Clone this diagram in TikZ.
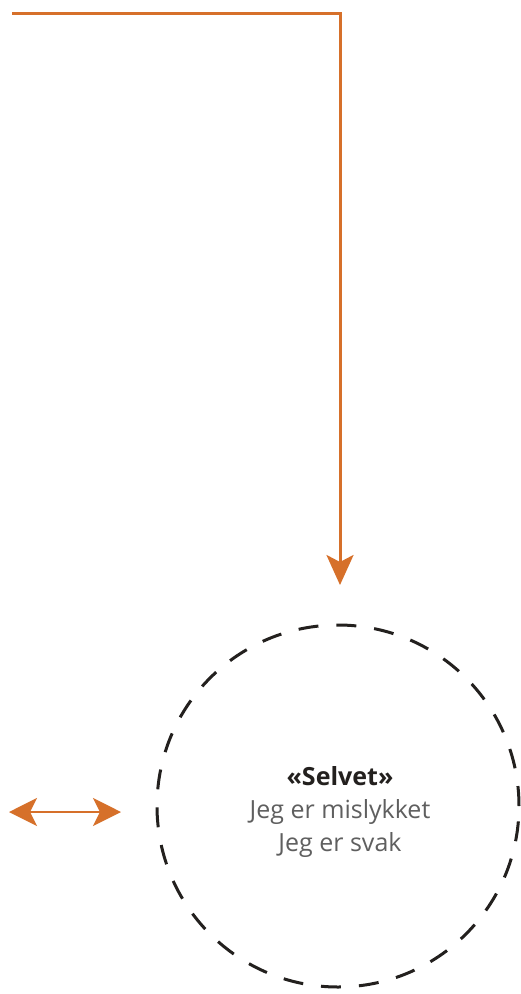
\documentclass[tikz,border=0pt]{standalone}
\usepackage{fontspec}
\setmainfont{Open Sans}
\usetikzlibrary{arrows.meta}
\definecolor{orangeline}{RGB}{214,112,42}
\definecolor{circleline}{RGB}{35,32,30}
\definecolor{bodytext}{RGB}{95,95,95}
\tikzset{
  flowline/.style={draw=orangeline, line width=3pt},
  headtip/.style={-{Stealth[length=30pt,width=27pt,inset=7pt]}},
  bothtips/.style={{Stealth[length=28pt,width=28pt,inset=7pt]}-{Stealth[length=28pt,width=28pt,inset=7pt]}},
  selfcircle/.style={circle, draw=circleline, line width=3pt, dash pattern=on 20pt off 18pt, minimum size=362pt, inner sep=0pt},
  selftext/.style={align=center, font=\fontsize{25pt}{33pt}\selectfont, text=bodytext}
}
\begin{document}
\begin{tikzpicture}[x=1pt,y=-1pt]
\useasboundingbox[fill=white] (0,0) rectangle (521,994);
\clip (0,0) rectangle (521,994);
\node[selfcircle] (self) at (338,806) {};
\node[selftext] (label) at (340,812) {{\bfseries\color{circleline}«Selvet»}\\Jeg er mislykket\\Jeg er svak};
\coordinate (topstart) at (12,13);
\coordinate (toptip) at (340,585);
\draw[flowline, headtip] (topstart) -| (toptip);
\coordinate (leftend) at (9,812);
\coordinate (rightend) at (121,812);
\draw[flowline, bothtips, line width=2.5pt] (leftend) -- (rightend);
\end{tikzpicture}
\end{document}
